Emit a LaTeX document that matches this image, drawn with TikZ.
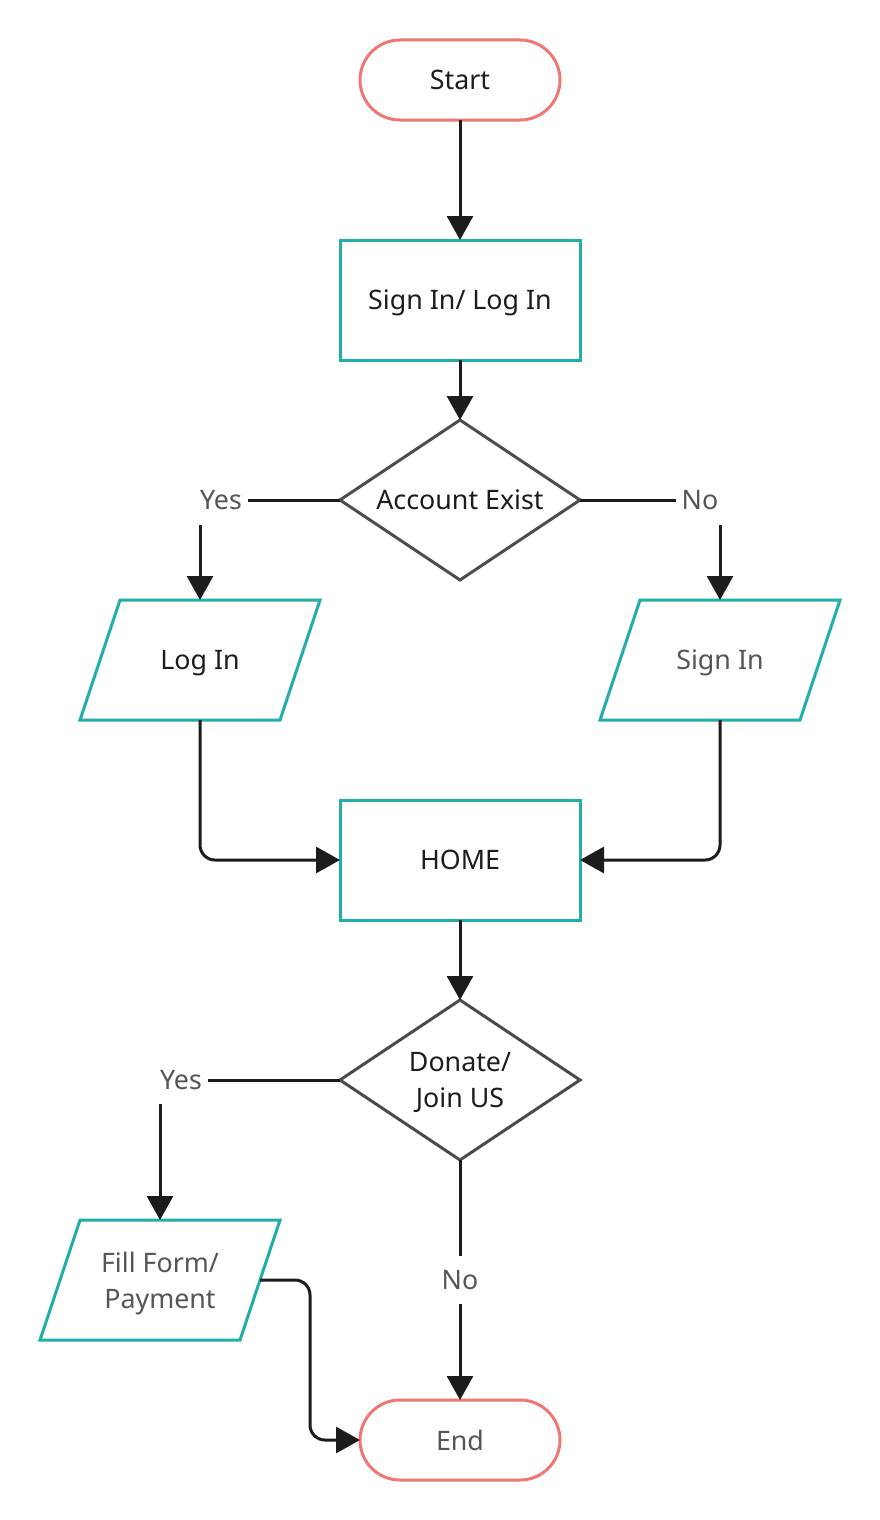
\documentclass[tikz,border=0pt]{standalone}
\usepackage{fontspec}
\setmainfont{Noto Sans}
\usetikzlibrary{arrows.meta,shapes.geometric}
\definecolor{salmon}{HTML}{F27575}
\definecolor{teal2}{HTML}{22ADA8}
\definecolor{dgray}{HTML}{4D4D4D}
\definecolor{arr}{HTML}{1C1C1C}
\definecolor{tgray}{HTML}{555555}
\definecolor{tblack}{HTML}{1C1C1C}
\tikzset{
  base/.style={line width=3pt, inner sep=0pt, outer sep=0pt, font=\fontsize{26.8}{36}\selectfont, align=center, text depth=0pt},
  term/.style={base, draw=salmon, rounded corners=40pt, minimum width=200pt, minimum height=80pt, fill=white},
  procbox/.style={base, draw=teal2, minimum width=240pt, minimum height=120pt},
  decision/.style={base, draw=dgray, shape=diamond, minimum width=240pt, minimum height=160pt, aspect=1.5},
  iobox/.style={base, minimum width=200pt, minimum height=120pt},
  para/.style={line width=3pt, draw=teal2, line join=miter},
  lbl/.style={base, text=tgray, inner sep=4pt},
  conn/.style={line width=3pt, draw=arr, -{Triangle[width=26pt,length=24pt]}},
  plainconn/.style={line width=3pt, draw=arr},
}
\begin{document}
\begin{tikzpicture}[x=1pt,y=-1pt]
\useasboundingbox (0,0) rectangle (880,1520);
\fill[white] (0,0) rectangle (880,1520);

% shapes
\node[term, text=tblack] (start) at (460,80) {Start};
\node[procbox, text=tblack] (sign) at (460,300) {Sign In/ Log In};
\node[decision, text=tblack] (acct) at (460,500) {Account Exist};

\draw[para] (120,600) -- (320,600) -- (280,720) -- (80,720) -- cycle;
\node[iobox, text=tblack] (login) at (200,660) {Log In};
\draw[para] (640,600) -- (840,600) -- (800,720) -- (600,720) -- cycle;
\node[iobox, text=tgray] (signin) at (720,660) {Sign In};

\node[procbox, text=tblack] (home) at (460,860) {HOME};
\node[decision, text=tblack] (donate) at (460,1080) {Donate/\\Join US};

\draw[para] (80,1220) -- (280,1220) -- (240,1340) -- (40,1340) -- cycle;
\node[iobox, text=tgray] (fill) at (160,1280) {Fill Form/\\Payment};

\node[term, text=tgray] (end) at (460,1440) {End};

% labels
\node[lbl] (yes1) at (221,500) {Yes};
\node[lbl] (no1) at (700,500) {No};
\node[lbl] (yes2) at (181,1080) {Yes};
\node[lbl] (no2) at (460,1280) {No};
\coordinate (yes1b) at (200,525);
\coordinate (no1b) at (720,525);
\coordinate (yes2b) at (160,1104);
\coordinate (no2a) at (460,1256);
\coordinate (no2b) at (460,1304);

% connectors
\draw[conn] (start.south) -- (sign.north);
\draw[conn] (sign.south) -- (acct.north);
\draw[plainconn] (acct.west) -- (248,500);
\draw[conn] (yes1b) -- (login.north);
\draw[plainconn] (acct.east) -- (676,500);
\draw[conn] (no1b) -- (signin.north);
\draw[conn, rounded corners=15pt] (login.south) |- (home.west);
\draw[conn, rounded corners=15pt] (signin.south) |- (home.east);
\draw[conn] (home.south) -- (donate.north);
\draw[plainconn] (donate.west) -- (208,1080);
\draw[conn] (yes2b) -- (fill.north);
\draw[plainconn] (donate.south) -- (no2a);
\draw[conn] (no2b) -- (end.north);
\draw[conn, rounded corners=15pt] (fill.east) -- (310,1280) |- (end.west);
\end{tikzpicture}
\end{document}
